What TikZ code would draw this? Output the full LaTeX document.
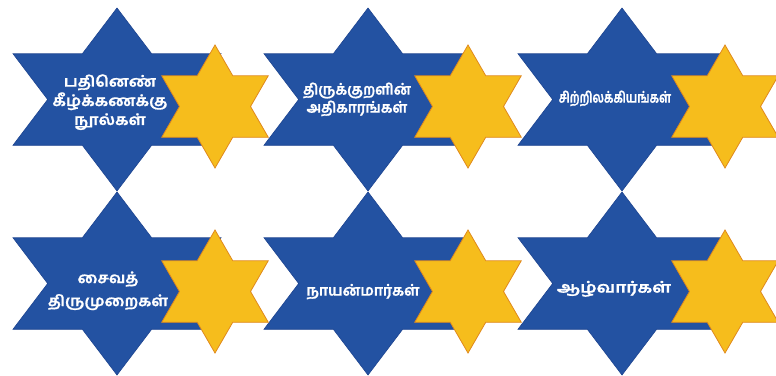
\documentclass[tikz,border=0pt]{standalone}
\usepackage{fontspec}
\usepackage{graphicx}
\newfontfamily\tamil[Script=Tamil, BoldFeatures={FakeBold=1}]{Hind Madurai}
\definecolor{bluefill}{HTML}{2352A2}
\definecolor{blueline}{HTML}{1D4490}
\definecolor{yellowfill}{HTML}{F6BD1C}
\definecolor{yellowline}{HTML}{E0891C}
\newcommand{\tlines}[3]{\scalebox{#1}[1]{\fontsize{15}{#2}\selectfont\begin{tabular}{@{}c@{}}#3\end{tabular}}}
\tikzset{
  bstar/.pic={\filldraw[fill=bluefill, draw=blueline, line width=0.6pt]
    (0,-91.5) -- (34.67,-45.75) -- (104,-45.75) -- (69.33,0) -- (104,45.75) -- (34.67,45.75)
    -- (0,91.5) -- (-34.67,45.75) -- (-104,45.75) -- (-69.33,0) -- (-104,-45.75) -- (-34.67,-45.75) -- cycle;},
  ystar/.pic={\filldraw[fill=yellowfill, draw=yellowline, line width=0.8pt, line join=miter]
    (0,-61.5) -- (17.75,-30.75) -- (53.26,-30.75) -- (35.5,0) -- (53.26,30.75) -- (17.75,30.75)
    -- (0,61.5) -- (-17.75,30.75) -- (-53.26,30.75) -- (-35.5,0) -- (-53.26,-30.75) -- (-17.75,-30.75) -- cycle;},
  tlabel/.style={text=white, align=center, inner sep=0pt,
    font=\tamil\bfseries\fontsize{15}{19}\selectfont}
}
\begin{document}
\begin{tikzpicture}[x=1pt,y=-1pt]
\useasboundingbox[fill=white] (0,0) rectangle (776,375);
% blue stars
\pic at (117,99.5) {bstar};
\pic at (368,99.5) {bstar};
\pic at (622,99.5) {bstar};
\pic at (117,283.5) {bstar};
\pic at (368,283.5) {bstar};
\pic at (622,283.5) {bstar};
% yellow stars
\pic at (215,106.5) {ystar};
\pic at (468,106.5) {ystar};
\pic at (725,106.5) {ystar};
\pic at (215,291.5) {ystar};
\pic at (468,291.5) {ystar};
\pic at (725,291.5) {ystar};
% labels
\node[tlabel] (t1) at (110,102) {\tlines{1.1}{19}{பதினெண்\\கீழ்க்கணக்கு\\நூல்கள்}};
\node[tlabel] (t2) at (357,100) {\tlines{0.95}{18}{திருக்குறளின்\\அதிகாரங்கள்}};
\node[tlabel] (t3) at (615,99) {\tlines{0.77}{18}{சிற்றிலக்கியங்கள்}};
\node[tlabel] (t4) at (108,290) {\tlines{1.07}{23}{சைவத்\\திருமுறைகள்}};
\node[tlabel] (t5) at (363,292) {\tlines{0.98}{18}{நாயன்மார்கள்}};
\node[tlabel] (t6) at (614,289) {\tlines{1.2}{18}{ஆழ்வார்கள்}};
\end{tikzpicture}
\end{document}
